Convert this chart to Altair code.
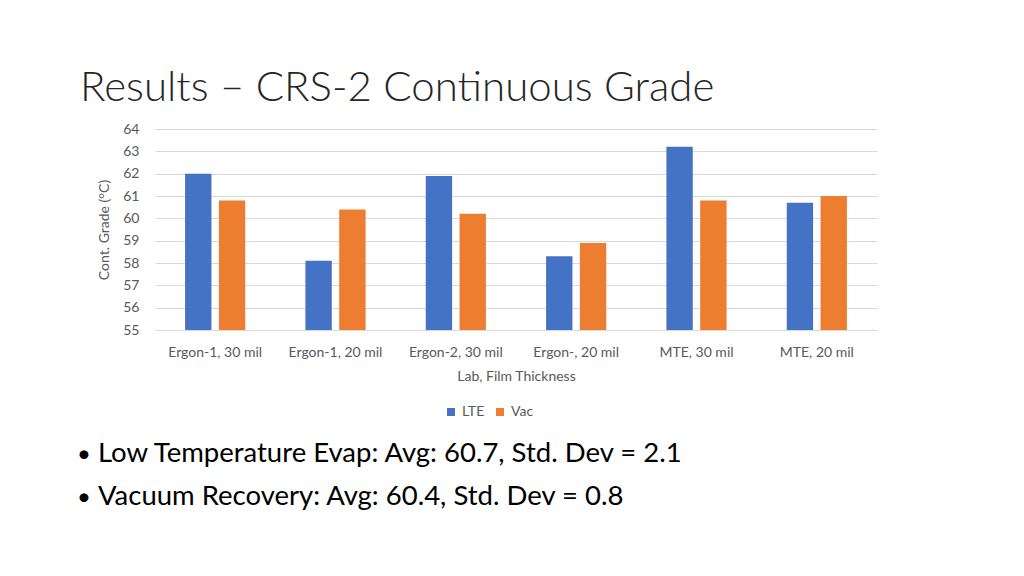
import altair as alt
import pandas as pd

categories = ["Ergon-1, 30 mil", "Ergon-1, 20 mil", "Ergon-2, 30 mil",
              "Ergon-, 20 mil", "MTE, 30 mil", "MTE, 20 mil"]
series = ["LTE", "Vac"]
lte = [62.0, 58.1, 61.9, 58.3, 63.2, 60.7]
vac = [60.8, 60.4, 60.2, 58.9, 60.8, 61.0]
y_ticks = [55, 56, 57, 58, 59, 60, 61, 62, 63, 64]
colors = ["#4472C4", "#ED7D31"]

title_text = ["Results \u2013 CRS-2 Continuous Grade"]
bullets = ["Low Temperature Evap: Avg: 60.7, Std. Dev = 2.1",
           "Vacuum Recovery: Avg: 60.4, Std. Dev = 0.8"]

rows = []
for c, a, b in zip(categories, lte, vac):
    rows.append({"cat": c, "series": "LTE", "value": a})
    rows.append({"cat": c, "series": "Vac", "value": b})
df = pd.DataFrame(rows)

FONT = "Lato"
GRAY = "#595959"

bars = alt.Chart(df).mark_bar(clip=True).encode(
    x=alt.X("cat:N", sort=categories,
            scale=alt.Scale(paddingInner=0.5, paddingOuter=0.25),
            axis=alt.Axis(title="Lab, Film Thickness", labelAngle=0,
                          labelFontSize=14, labelColor=GRAY, labelFont=FONT,
                          titleFont=FONT, titleFontSize=14, titleColor=GRAY,
                          titleFontWeight="normal", titlePadding=10,
                          labelPadding=15, ticks=False, domainColor="#d9d9d9",
                          grid=False)),
    xOffset=alt.XOffset("series:N", sort=series,
                        scale=alt.Scale(paddingInner=0.22, paddingOuter=0)),
    y=alt.Y("value:Q", scale=alt.Scale(domain=[55, 64], nice=False, zero=False),
            axis=alt.Axis(title="Cont. Grade (\u00b0C)", values=y_ticks,
                          labelFontSize=14, labelColor=GRAY, labelFont=FONT,
                          titleFont=FONT, titleFontSize=14, titleColor=GRAY,
                          titleFontWeight="normal", titlePadding=11,
                          labelPadding=16, ticks=False, domain=False,
                          gridColor="#d9d9d9", gridWidth=1)),
    color=alt.Color("series:N", sort=series,
                    scale=alt.Scale(domain=series, range=colors),
                    legend=alt.Legend(title=None, orient="none",
                                      direction="horizontal",
                                      legendX=289, legendY=276,
                                      symbolType="square", symbolSize=64,
                                      symbolStrokeWidth=0,
                                      labelFont=FONT, labelFontSize=14,
                                      labelColor=GRAY, columnPadding=8,
                                      symbolOffset=0, labelOffset=4)),
)

title_layer = alt.Chart(pd.DataFrame({"t": title_text})).mark_text(
    font=FONT, fontSize=42, fontWeight=300, color="#262626",
    align="left", baseline="alphabetic"
).encode(text="t:N", x=alt.value(-75), y=alt.value(-28))

bdf = pd.DataFrame({"t": bullets, "i": [0, 1]})
bullet_text = alt.Chart(bdf).mark_text(
    font=FONT, fontSize=27.5, color="#000000", align="left", baseline="alphabetic"
).encode(text="t:N", x=alt.value(-57),
         y=alt.Y("i:Q", scale=alt.Scale(domain=[0, 1], range=[333, 376]),
                 axis=None))

bdf2 = pd.DataFrame({"t": ["\u2022", "\u2022"], "i": [0, 1]})
bullet_dots = alt.Chart(bdf2).mark_text(
    font=FONT, fontSize=24, color="#000000", align="left", baseline="alphabetic"
).encode(text="t:N", x=alt.value(-78),
         y=alt.Y("i:Q", scale=alt.Scale(domain=[0, 1], range=[333, 376]),
                 axis=None))

chart = alt.layer(bars, title_layer, bullet_text, bullet_dots).resolve_scale(
    y="independent"
).properties(
    width=722, height=201,
    autosize=alt.AutoSizeParams(type="none"),
    padding={"left": 147, "top": 121, "right": 139, "bottom": 238},
    background="white",
).configure_view(stroke=None)

chart.save("out.html", embed_options={"renderer": "svg", "actions": False})
